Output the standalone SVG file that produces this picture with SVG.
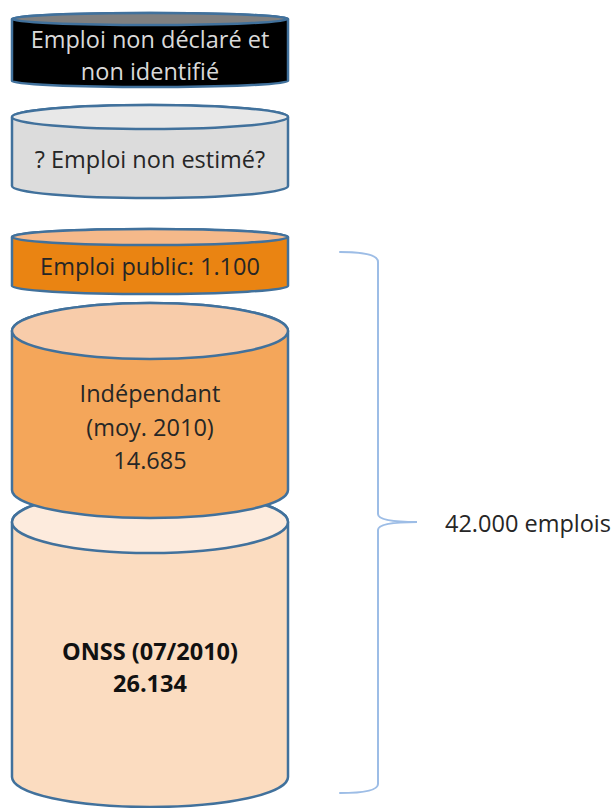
<svg xmlns="http://www.w3.org/2000/svg" width="616" height="808" viewBox="0 0 616 808">
<style>
  .edge{stroke:#41719c;stroke-width:2.5;stroke-linejoin:round}
  .t{font-family:"Open Sans","Liberation Sans",sans-serif;font-size:23.5px;text-anchor:middle;fill:#262626}
  .b{font-weight:bold;fill:#111}
  .brace{fill:none;stroke:#9dbde6;stroke-width:2;stroke-linecap:round}
</style>
<rect width="616" height="808" fill="#ffffff"/>

<g id="onss">
  <path class="edge" fill="#fbdcc0" d="M12,522 A138,31 0 0 1 288,522 V777 A138,30 0 0 1 12,777 Z"/>
  <ellipse class="edge" fill="#fdebdd" cx="150" cy="522" rx="138" ry="31"/>
  <text class="t b" x="150" y="660">ONSS (07/2010)</text>
  <text class="t b" x="150" y="692">26.134</text>
</g>

<g id="independant">
  <path class="edge" fill="#f4a65a" d="M12,331 A138,28 0 0 1 288,331 V490 A138,28 0 0 1 12,490 Z"/>
  <ellipse class="edge" fill="#f8ccaa" cx="150" cy="331" rx="138" ry="28"/>
  <text class="t" x="150" y="402">Indépendant</text>
  <text class="t" x="150" y="436">(moy. 2010)</text>
  <text class="t" x="150" y="469">14.685</text>
</g>

<g id="public">
  <path class="edge" fill="#ea8412" d="M12,237 A138,8 0 0 1 288,237 V286 A138,8 0 0 1 12,286 Z"/>
  <ellipse class="edge" fill="#f5b98a" cx="150" cy="237" rx="138" ry="8"/>
  <text class="t" x="150" y="275">Emploi public: 1.100</text>
</g>

<g id="non-estime">
  <path class="edge" fill="#dcdcdc" d="M12,117 A138,12 0 0 1 288,117 V186 A138,12 0 0 1 12,186 Z"/>
  <ellipse class="edge" fill="#e8e8e8" cx="150" cy="117" rx="138" ry="12"/>
  <text class="t" x="150" y="168">? Emploi non estimé?</text>
</g>

<g id="non-declare">
  <path class="edge" fill="#000000" d="M12,19 A138,6 0 0 1 288,19 V81 A138,6 0 0 1 12,81 Z"/>
  <ellipse class="edge" fill="#808080" cx="150" cy="19" rx="138" ry="6"/>
  <text class="t" x="150" y="48" fill="#d9d9d9" style="fill:#d9d9d9">Emploi non déclaré et</text>
  <text class="t" x="150" y="80" style="fill:#d9d9d9">non identifié</text>
</g>

<g id="connectors">
  <path class="brace" d="M340,252 Q378,252 378,262 V514 Q378,522 417,522 Q378,522 378,530 V784 Q378,793 340,793"/>
</g>

<g id="total">
  <text class="t" x="445" y="532" style="text-anchor:start">42.000 emplois</text>
</g>
</svg>
